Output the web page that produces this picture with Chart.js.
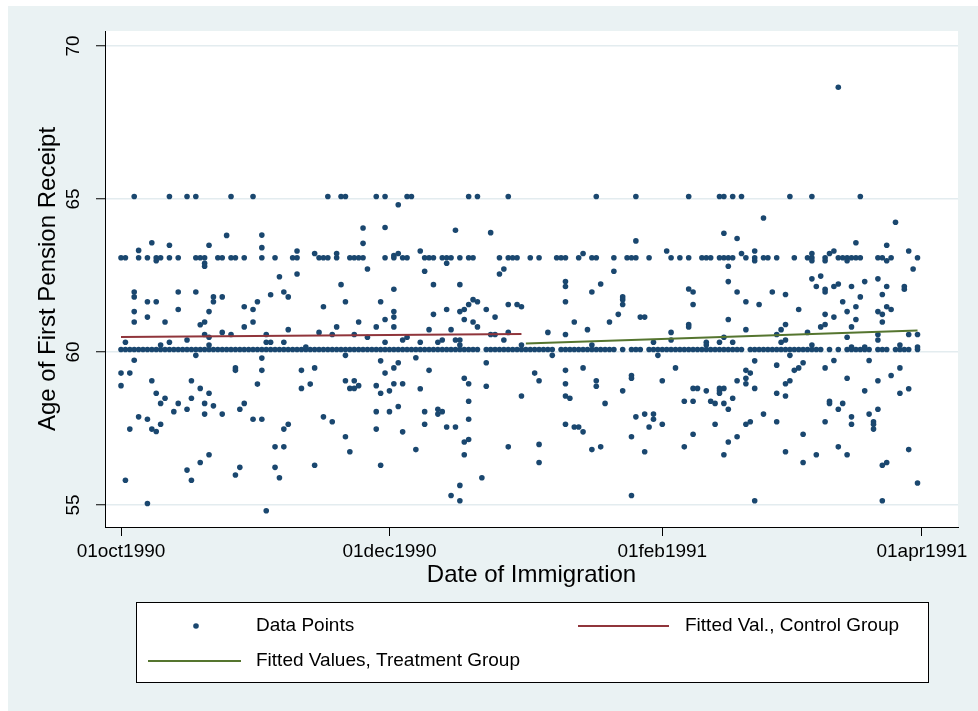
<!DOCTYPE html>
<html>
<head>
<meta charset="utf-8">
<script src="https://cdn.jsdelivr.net/npm/chart.js@4.4.0/dist/chart.umd.min.js"></script>
<style>
  html, body { margin: 0; padding: 0; background: #fff; }
  canvas { display: block; }
</style>
</head>
<body>
<canvas id="chart" width="978" height="711"></canvas>
<script>
// x values are days since 01oct1990
const tickDays = [0, 61, 123, 182];
const tickLabels = ['01oct1990', '01dec1990', '01feb1991', '01apr1991'];
const yTicks = [55, 60, 65, 70];

// days with a point on the 60-year, 63-year and 65-year rows
const band60Days = [
  0,1,2,3,4,5,6,7,8,9,10,11,12,13,14,15,16,17,18,19,20,21,22,23,24,25,26,27,28,29,
  30,31,32,33,34,35,36,37,38,39,40,41,42,43,44,45,46,47,48,49,50,51,52,53,54,55,56,57,58,59,
  60,61,62,63,64,65,66,67,68,69,70,71,72,73,74,75,76,77,78,79,80,81,83,84,85,86,87,88,89,90,
  91,92,93,94,95,96,97,98,100,101,102,103,104,105,106,107,108,109,110,111,112,114,116,117,118,
  120,121,122,123,124,125,126,127,128,129,130,131,132,133,134,135,136,137,138,139,140,141,
  143,144,145,146,147,148,149,150,151,152,153,154,155,156,157,158,159,161,163,
  165,166,167,168,169,170,172,173,174,176,177,178,179,181
];
const band60Age = 60.08;
const band63Days = [
  0,1,4,6,8,9,11,13,17,18,19,22,23,25,26,28,
  32,35,39,40,45,46,47,49,52,53,54,55,60,
  62,64,65,69,70,71,73,74,75,77,79,80,86,88,89,90,
  93,95,99,100,101,104,107,108,112,115,116,117,120,
  125,127,129,132,133,134,136,137,138,139,142,144,146,147,149,
  153,156,157,160,163,164,165,166,167,168,172,173,175,181
];
const band63Age = 63.08;
const band65Days = [3,11,15,17,25,30,47,50,51,58,60,65,66,79,81,88,108,117,129,136,137,139,141,152,157,168];
const band65Age = 65.08;

// remaining scattered points
const otherDays = [
  24,7,11,20,4,8,19,19,3,3,13,17,6,8,21,21,23,13,28,3,20,6,3,10,19,18,28,23,25,19,20,15,1,11,9,20,
  17,3,0,2,26,26,0,7,16,18,8,20,10,16,9,13,19,28,21,15,27,12,19,23,4,6,9,2,7,8,20,18,15,27,26,1,16,6,
  32,32,55,55,40,44,49,40,56,36,50,37,38,34,31,51,59,30,46,30,54,49,58,38,45,33,48,53,56,33,34,37,42,
  51,32,59,32,41,44,31,43,51,53,41,52,53,54,58,59,58,30,32,46,48,38,37,58,51,35,37,52,35,44,59,36,33,
  60,63,76,84,68,62,63,74,69,87,86,77,71,62,80,79,81,90,88,77,78,74,83,62,62,71,85,60,78,80,62,81,70,75,
  88,84,85,64,65,87,68,72,73,60,76,77,77,67,83,63,62,70,60,78,79,62,64,83,68,61,79,61,63,69,72,72,73,79,
  69,74,76,64,78,79,67,88,78,82,77,75,77,
  91,91,91,117,105,112,101,101,109,107,114,114,114,101,113,118,119,103,111,106,97,101,107,121,98,94,95,
  101,105,101,108,108,116,116,114,101,102,110,119,121,121,117,101,103,104,105,120,116,95,107,109,119,95,116,
  146,137,140,124,141,144,144,138,138,129,130,140,148,151,130,145,142,138,129,129,142,125,151,150,149,137,
  125,151,133,133,136,139,150,122,144,126,149,142,143,123,140,142,142,151,130,131,133,136,137,136,136,144,
  149,151,128,130,134,135,137,139,138,146,123,135,142,143,149,130,140,138,128,151,137,144,
  163,176,167,174,157,161,162,179,157,160,165,174,180,159,157,172,169,163,162,158,166,174,178,178,160,160,
  168,173,164,167,174,175,154,165,172,173,160,162,167,173,159,160,166,156,165,172,172,179,181,157,177,166,
  169,181,152,170,162,155,154,153,160,177,175,165,172,152,169,179,177,161,161,164,163,172,170,166,166,171,
  171,171,160,155,163,179,158,165,155,173,174,181,173
];
const otherAges = [
  63.81,63.57,63.49,63.49,63.32,62.98,62.9,62.8,61.96,61.8,61.96,61.96,61.64,61.64,61.8,61.64,61.8,61.39,61.48,61.32,61.32,61.14,60.98,60.98,60.98,60.89,60.82,60.64,60.57,60.57,60.48,60.39,60.32,60.32,60.23,60.23,
  59.89,59.73,59.31,59.31,59.48,59.4,58.9,59.06,59.06,58.81,58.65,58.65,58.49,58.49,58.32,58.32,58.32,58.32,58.24,58.13,58.13,58.05,57.97,57.97,57.88,57.8,57.64,57.48,57.48,57.4,56.64,56.39,56.14,56.23,55.98,55.81,55.81,55.05,
  63.82,63.41,64.05,63.55,63.3,63.22,63.22,62.55,62.71,62.46,62.2,61.96,61.8,61.87,61.64,61.64,61.64,61.39,61.48,60.98,60.98,60.82,60.82,60.73,60.64,60.57,60.57,60.57,60.48,60.32,60.32,60.32,60.16,
  59.89,59.8,59.71,59.4,59.4,59.48,58.95,58.95,59.06,59.06,58.81,58.81,58.81,58.9,58.9,58.65,58.05,57.8,57.8,57.88,57.72,57.64,57.48,57.48,57.23,56.9,56.9,56.74,56.23,56.3,56.3,55.89,54.81,
  64.07,64.81,63.98,63.9,63.3,63.15,63.22,62.9,62.64,62.71,62.55,62.2,62.2,62.05,61.71,61.55,61.64,61.55,61.55,61.32,61.39,61.39,61.39,61.32,61.14,61.23,61.14,61.06,61.06,60.98,60.82,60.82,60.73,60.73,
  60.64,60.57,60.57,60.39,60.48,60.39,60.32,60.32,60.39,60.32,60.39,60.39,60.23,59.81,59.65,59.65,59.48,59.4,59.31,59.14,58.96,58.96,58.96,58.88,58.8,58.73,58.39,58.05,58.22,58.05,58.13,57.97,58.05,57.8,
  57.64,57.55,57.55,57.39,57.06,57.14,56.81,56.9,56.64,55.89,55.64,55.31,55.14,
  61.48,60.23,58.56,63.63,63.22,62.64,62.3,62.14,62.22,61.96,61.8,61.71,61.55,61.64,61.23,61.14,61.14,60.98,60.98,60.73,60.64,60.57,60.23,60.32,59.89,59.31,59.06,
  59.4,59.48,58.96,59.06,58.88,59.23,59.14,58.73,58.56,58.49,58.32,57.97,57.97,57.8,57.88,57.64,57.55,57.55,57.39,57.55,57.23,56.98,56.81,56.9,56.74,56.39,55.31,
  64.38,63.88,63.71,63.3,63.22,63.3,62.98,62.8,62.3,62.06,61.96,61.96,61.96,61.88,61.55,61.55,61.64,61.06,60.9,60.82,60.73,60.64,60.9,60.73,60.57,60.48,
  60.39,60.39,60.32,60.23,60.32,60.32,60.32,59.89,59.71,59.48,59.57,59.4,59.31,59.06,59.06,59.14,58.96,58.96,58.81,58.81,58.73,58.81,58.81,58.73,58.65,58.81,
  58.65,58.56,58.39,58.39,58.39,58.32,58.32,58.49,58.13,57.97,57.64,57.64,57.64,57.72,57.72,57.31,57.23,57.06,56.9,56.74,56.64,55.14,
  68.65,64.24,63.57,63.49,63.22,63.22,63.3,63.3,62.98,62.98,62.98,62.98,62.71,62.48,62.39,62.39,62.3,62.22,62.14,62.14,62.14,62.14,62.14,62.05,62.05,61.96,
  61.8,61.88,61.64,61.48,61.48,61.39,61.39,61.32,61.32,61.23,61.23,61.14,61.06,60.98,60.82,60.9,60.82,60.64,60.48,60.57,60.39,60.57,60.57,60.23,60.23,60.16,
  60.16,60.16,59.89,59.72,59.72,59.65,59.48,59.4,59.48,59.48,59.23,59.14,59.06,59.06,58.73,58.8,58.65,58.39,58.32,58.32,58.13,58.13,57.97,57.88,57.64,57.72,
  57.64,57.48,57.72,57.31,56.9,56.81,56.64,56.64,56.39,56.3,56.39,55.72,55.14
];

// fitted lines
const controlFitDays = [0, 91];
const controlFitAges = [60.49, 60.59];
const treatFitDays = [92, 181];
const treatFitAges = [60.28, 60.70];

const navy = '#1a476f';
const maroon = '#90353b';
const forest = '#55752f';
const bgGray = '#eaf2f3';
const FONT = "'Liberation Sans', Arial, Helvetica, sans-serif";

const points = [];
band60Days.forEach(d => points.push({ x: d, y: band60Age }));
band63Days.forEach(d => points.push({ x: d, y: band63Age }));
band65Days.forEach(d => points.push({ x: d, y: band65Age }));
otherDays.forEach((d, i) => points.push({ x: d, y: otherAges[i] }));

const backdrop = {
  id: 'backdrop',
  beforeDraw(chart) {
    const { ctx, chartArea: a } = chart;
    ctx.save();
    ctx.fillStyle = '#fff';
    ctx.fillRect(0, 0, chart.width, chart.height);
    ctx.fillStyle = bgGray;
    ctx.fillRect(8, 6, chart.width - 8, chart.height - 6);
    ctx.fillStyle = '#fff';
    ctx.fillRect(a.left, a.top, a.right - a.left, a.bottom - a.top);
    ctx.restore();
  },
  afterDraw(chart) {
    const { ctx } = chart;
    const y = chart.scales.y;
    ctx.save();
    // rotated y tick labels
    ctx.fillStyle = '#000';
    ctx.font = '19px ' + FONT;
    ctx.textAlign = 'center';
    ctx.textBaseline = 'middle';
    yTicks.forEach(v => {
      ctx.save();
      ctx.translate(74, y.getPixelForValue(v));
      ctx.rotate(-Math.PI / 2);
      ctx.fillText(String(v), 0, 0);
      ctx.restore();
    });
    // legend box
    ctx.fillStyle = '#fff';
    ctx.fillRect(136, 602, 792, 80);
    ctx.strokeStyle = '#000';
    ctx.lineWidth = 1;
    ctx.strokeRect(136.5, 602.5, 792, 80);
    ctx.fillStyle = navy;
    ctx.beginPath();
    ctx.arc(196, 626, 2.8, 0, Math.PI * 2);
    ctx.fill();
    ctx.lineWidth = 2;
    ctx.strokeStyle = maroon;
    ctx.beginPath(); ctx.moveTo(578, 626); ctx.lineTo(669, 626); ctx.stroke();
    ctx.strokeStyle = forest;
    ctx.beginPath(); ctx.moveTo(148, 661); ctx.lineTo(241, 661); ctx.stroke();
    ctx.fillStyle = '#000';
    ctx.textAlign = 'left';
    ctx.fillText('Data Points', 256, 626);
    ctx.fillText('Fitted Val., Control Group', 685, 626);
    ctx.fillText('Fitted Values, Treatment Group', 256, 661);
    ctx.restore();
  }
};

new Chart(document.getElementById('chart'), {
  type: 'scatter',
  data: {
    datasets: [
      {
        label: 'Data Points',
        data: points,
        pointRadius: 2.8,
        pointHoverRadius: 2.8,
        pointBackgroundColor: navy,
        pointBorderWidth: 0,
        order: 3
      },
      {
        type: 'line',
        label: 'Fitted Val., Control Group',
        data: controlFitDays.map((d, i) => ({ x: d, y: controlFitAges[i] })),
        borderColor: maroon,
        borderWidth: 2,
        pointRadius: 0,
        fill: false,
        order: 1
      },
      {
        type: 'line',
        label: 'Fitted Values, Treatment Group',
        data: treatFitDays.map((d, i) => ({ x: d, y: treatFitAges[i] })),
        borderColor: forest,
        borderWidth: 2,
        pointRadius: 0,
        fill: false,
        order: 2
      }
    ]
  },
  options: {
    responsive: false,
    animation: false,
    devicePixelRatio: 1,
    layout: { padding: { left: 0, top: 31, right: 20, bottom: 0 } },
    plugins: { legend: { display: false }, tooltip: { enabled: false } },
    scales: {
      x: {
        type: 'linear',
        min: -3.64,
        max: 190.2,
        afterBuildTicks: s => { s.ticks = tickDays.map(v => ({ value: v })); },
        afterFit: s => { s.height = 184; },
        ticks: {
          color: '#000',
          font: { size: 19, family: FONT },
          padding: 4,
          maxRotation: 0,
          autoSkip: false,
          callback: v => tickLabels[tickDays.indexOf(v)]
        },
        grid: { drawOnChartArea: false, tickColor: '#000', tickLength: 9, tickWidth: 1 },
        border: { color: '#000', width: 1 },
        title: {
          display: true,
          text: 'Date of Immigration',
          color: '#000',
          font: { size: 24, family: FONT },
          padding: { top: 0, bottom: 121 }
        }
      },
      y: {
        min: 54.28,
        max: 70.49,
        afterBuildTicks: s => { s.ticks = yTicks.map(v => ({ value: v })); },
        afterFit: s => { s.width = 105; },
        ticks: { display: false },
        grid: { color: '#e3ecef', lineWidth: 1.5, tickColor: '#000', tickLength: 9, tickWidth: 1 },
        border: { color: '#000', width: 1 },
        title: {
          display: true,
          text: 'Age of First Pension Receipt',
          color: '#000',
          font: { size: 24, family: FONT },
          padding: { top: 34, bottom: 0 }
        }
      }
    }
  },
  plugins: [backdrop]
});
</script>
</body>
</html>
